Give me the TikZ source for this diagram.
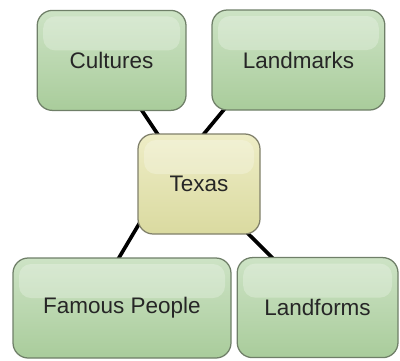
\documentclass[tikz,border=0pt]{standalone}
\usepackage{fontspec}
\setmainfont{Liberation Sans}
\usepackage{xcolor}
\usetikzlibrary{backgrounds}
\definecolor{boxtop}{HTML}{CDE3C5}
\definecolor{boxbot}{HTML}{A9CC9B}
\definecolor{boxline}{HTML}{6F7F68}
\definecolor{textop}{HTML}{EEEDC6}
\definecolor{texbot}{HTML}{DADAA0}
\definecolor{texline}{HTML}{80806A}

\begin{document}
\begin{tikzpicture}[
		topic/.style={draw=boxline, line width=0.9pt, rounded corners=0.38cm,
			top color=boxtop, bottom color=boxbot, minimum height=2.5cm,
			text=black!85, font=\fontsize{16}{19}\selectfont, anchor=center,
			path picture={\fill[white, opacity=0.25, rounded corners=0.3cm]
				([shift={(0.15,-0.15)}]path picture bounding box.north west) rectangle
				([shift={(-0.15,-1.0)}]path picture bounding box.north east);}},
		hub/.style={topic, draw=texline, top color=textop, bottom color=texbot},
		link/.style={line width=2.6pt, black}
	]
				\useasboundingbox (0,0) rectangle (10,-9);
				\node[topic, minimum width=3.72cm] (cult) at (2.79,-1.51) {Cultures};
				\node[topic, minimum width=4.32cm] (land) at (7.46,-1.50) {Landmarks};
				\node[hub, minimum width=3.05cm] (texas) at (4.975,-4.60) {Texas};
				\node[topic, minimum width=5.45cm] (famous) at (3.05,-7.70) {Famous People};
				\node[topic, minimum width=4.02cm] (forms) at (7.94,-7.69) {Landforms};
				\begin{scope}[on background layer]
				\draw[link] ([xshift=0.70cm,yshift=0.1cm]cult.south) -- ([xshift=-0.98cm,yshift=-0.1cm]texas.north);
				\draw[link] ([xshift=-1.80cm,yshift=0.1cm]land.south) -- ([xshift=0.05cm,yshift=-0.1cm]texas.north);
				\draw[link] ([xshift=0.1cm,yshift=-0.9cm]texas.west) -- ([xshift=-0.13cm,yshift=-0.1cm]famous.north);
				\draw[link] ([xshift=1.15cm,yshift=0.1cm]texas.south) -- ([xshift=-1.05cm,yshift=-0.1cm]forms.north);
				\end{scope}
			\end{tikzpicture}
\end{document}
